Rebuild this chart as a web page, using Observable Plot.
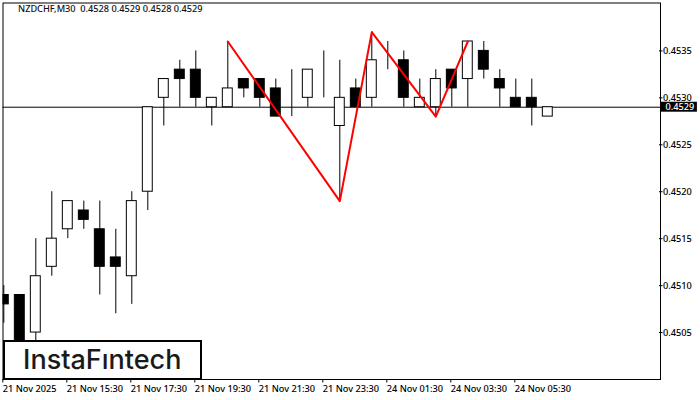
<!DOCTYPE html>
<html>
<head>
<meta charset="utf-8">
<script src="https://cdn.jsdelivr.net/npm/d3@7"></script>
<script src="https://cdn.jsdelivr.net/npm/@observablehq/plot@0.6"></script>
<style>
html,body{margin:0;padding:0;background:#fff;overflow:hidden}
#chart{position:relative;width:700px;height:400px}
#logo{position:absolute;left:2.5px;top:340px;width:195.5px;height:35.5px;border:2px solid #000;background:#fff;
font:500 27px/35.5px "Inter","Noto Sans",sans-serif;color:#1a1a1a;text-align:center}
svg{display:block}
svg text{font-weight:500}
</style>
</head>
<body>
<div id="chart"><div id="logo">InstaFıntech</div></div>
<script>
const opens  = [.4509,.4509,.4505,.4512,.4516,.4518,.4516,.4513,.4511,.4520,.4530,.4533,.4533,.4529,.4529,.4532,.4532,.4531,.4529,.4530,.4534,.4527,.4531,.4530,.4535,.4534,.4529,.4529,.4533,.4532,.4535,.4532,.4530,.4530,.4528];
const closes = [.4508,.4503,.4511,.4515,.4519,.4517,.4512,.4512,.4519,.4529,.4532,.4532,.4530,.4530,.4531,.4531,.4530,.4528,.4529,.4533,.4534,.4530,.4529,.4534,.4535,.4530,.4530,.4532,.4531,.4536,.4533,.4531,.4529,.4529,.4529];
const highs  = [.4510,.4509,.4515,.4520,.4519,.4519,.4519,.4516,.4520,.4529,.4532,.4534,.4535,.4530,.4536,.4532,.4532,.4532,.4533,.4533,.4535,.4534,.4532,.4537,.4536,.4535,.4532,.4533,.4533,.4536,.4536,.4533,.4532,.4532,.4529];
const lows   = [.4506,.4502,.4504,.4511,.4515,.4516,.4509,.4507,.4508,.4518,.4527,.4529,.4529,.4527,.4529,.4530,.4529,.4528,.4528,.4529,.4530,.4519,.4529,.4529,.4533,.4529,.4529,.4528,.4529,.4529,.4532,.4529,.4529,.4527,.4528];
const patternIdx = [14,21,23,27,29];
const patternPrice = [.4536,.4519,.4537,.4528,.4536];
const lastPrice = .4529;
const yTicks = [.4505,.4510,.4515,.4520,.4525,.4530,.4535];
const xTicks = [0,4,8,12,16,20,24,28,32];
const xLabels = ["21 Nov 2025","21 Nov 15:30","21 Nov 17:30","21 Nov 19:30","21 Nov 21:30","21 Nov 23:30","24 Nov 01:30","24 Nov 03:30","24 Nov 05:30"];
const titleText = "NZDCHF,M30  0.4528 0.4529 0.4528 0.4529";

const candles = opens.map((o,i)=>({i,o,c:closes[i],h:highs[i],l:lows[i]}));
const font = '"Noto Sans",sans-serif';
const fs = 9.2;
const up = candles.filter(d=>d.c>=d.o), down = candles.filter(d=>d.c<d.o);
const hw = 0.31;

const chart = Plot.plot({
  width:700,height:400,
  marginLeft:2.5,marginRight:40,marginTop:2.5,marginBottom:21,
  style:{fontFamily:font,fontSize:fs+"px",color:"#000",background:"#fff",overflow:"visible"},
  x:{type:"linear",domain:[0,34],range:[3.3,547.3]},
  y:{type:"linear",domain:[.4500,.45401],range:[379,2.5]},
  marks:[
    Plot.ruleY([lastPrice],{y:d=>d,stroke:"#000",strokeWidth:1}),
    Plot.ruleX(candles,{x:"i",y1:"l",y2:"h",stroke:"#000",strokeWidth:1,clip:"frame"}),
    Plot.rect(up,{x1:d=>d.i-hw,x2:d=>d.i+hw,y1:"o",y2:"c",fill:"#fff",stroke:"#000",strokeWidth:1,clip:"frame"}),
    Plot.rect(down,{x1:d=>d.i-hw,x2:d=>d.i+hw,y1:"o",y2:"c",fill:"#000",stroke:"#000",strokeWidth:1,clip:"frame"}),
    Plot.line(patternIdx.map((x,k)=>({x,y:patternPrice[k]})),{x:"x",y:"y",stroke:"#f00",strokeWidth:2,curve:"linear"}),
    Plot.frame({stroke:"#000",strokeWidth:1}),
    Plot.axisX({ticks:xTicks,tickFormat:i=>xLabels[xTicks.indexOf(i)],tickSize:3.5,tickPadding:2,textAnchor:"start",label:null,fontSize:fs,dx:-1}),
    Plot.axisY({anchor:"right",ticks:yTicks,tickFormat:d3.format(".4f"),tickSize:3.5,tickPadding:1,label:null,fontSize:fs,dx:-2}),
    Plot.rect([lastPrice],{x1:()=>41.1,x2:()=>43.35,y1:d=>d-.000053,y2:d=>d+.000053,fill:"#000"}),
    Plot.text([lastPrice],{x:()=>41.35,y:d=>d,text:d=>d.toFixed(4),fill:"#fff",textAnchor:"start",fontSize:fs}),
    Plot.text([titleText],{frameAnchor:"top-left",dx:15,dy:2,textAnchor:"start",lineAnchor:"top",fontSize:fs,fill:"#111"})
  ]
});
document.getElementById("chart").prepend(chart);
</script>
</body>
</html>
